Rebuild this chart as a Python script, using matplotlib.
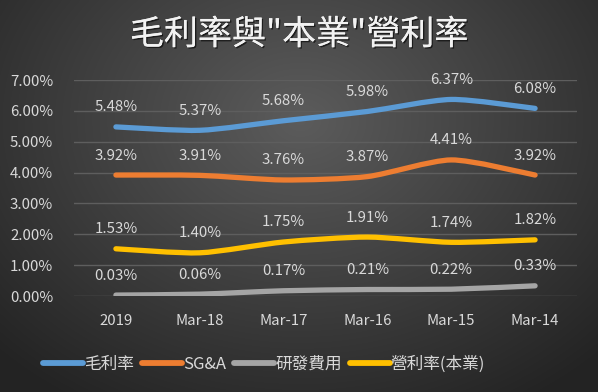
import numpy as np
import matplotlib
matplotlib.use("Agg")
import matplotlib.pyplot as plt
from matplotlib.path import Path
from matplotlib.patches import PathPatch
import matplotlib.patheffects as pe

plt.rcParams['font.family'] = ['Noto Sans CJK TC', 'DejaVu Sans']

categories = ['2019', 'Mar-18', 'Mar-17', 'Mar-16', 'Mar-15', 'Mar-14']
gross = [5.48, 5.37, 5.68, 5.98, 6.37, 6.08]
sga = [3.92, 3.91, 3.76, 3.87, 4.41, 3.92]
rnd = [0.03, 0.06, 0.17, 0.21, 0.22, 0.33]
op = [1.53, 1.40, 1.75, 1.91, 1.74, 1.82]

series = [
    ('毛利率', gross, '#5B9BD5'),
    ('SG&A', sga, '#ED7D31'),
    ('研發費用', rnd, '#A5A5A5'),
    ('營利率(本業)', op, '#FFC000'),
]

W, H = 598, 392
fig = plt.figure(figsize=(W / 100, H / 100), dpi=100)

# radial-ish gradient background
bg = fig.add_axes([0, 0, 1, 1], zorder=-10)
yy, xx = np.mgrid[0:H, 0:W]
d = np.sqrt(((xx - 300) / 420.0) ** 2 + ((yy - 120) / 330.0) ** 2)
v = np.clip(0.36 - 0.22 * d, 0.14, 0.36)
bg.imshow(np.dstack([v, v, v]), aspect='auto', extent=[0, 1, 0, 1])
bg.axis('off')

ax = fig.add_axes([74 / W, 1 - 296 / H, (577 - 74) / W, (296 - 80) / H])
ax.set_facecolor('none')
x = np.arange(len(categories))


def smooth_path(xs, ys, t=0.12):
    # Catmull-Rom style bezier control points (like Excel smoothed lines)
    pts = np.column_stack([xs, ys]).astype(float)
    verts = [pts[0]]
    codes = [Path.MOVETO]
    n = len(pts)
    for i in range(n - 1):
        p0 = pts[i - 1] if i > 0 else pts[i]
        p1, p2 = pts[i], pts[i + 1]
        p3 = pts[i + 2] if i + 2 < n else pts[i + 1]
        c1 = p1 + (p2 - p0) * t
        c2 = p2 - (p3 - p1) * t
        verts += [c1, c2, p2]
        codes += [Path.CURVE4] * 3
    return Path(verts, codes)


for name, vals, col in series:
    p = smooth_path(x, vals)
    ax.add_patch(PathPatch(p, facecolor='none', edgecolor=col, lw=3.8,
                           capstyle='round', joinstyle='round', zorder=3))
    ax.plot([], [], color=col, lw=4.2, solid_capstyle='round', label=name)
    for xi, vi in zip(x, vals):
        ax.annotate(f'{vi:.2f}%', (xi, vi), xytext=(0, 9), textcoords='offset points',
                    ha='center', va='bottom', color='#d9d9d9', fontsize=10.8)

ax.set_xlim(-0.5, len(categories) - 0.5)
ax.set_ylim(0, 7)
ax.set_yticks(np.arange(0, 8, 1))
ax.set_yticklabels([f'{v:.2f}%' for v in range(8)])
ax.set_xticks(x)
ax.set_xticklabels(categories)
ax.tick_params(colors='#d9d9d9', labelsize=10.8, length=0)
ax.tick_params(axis='x', pad=13)
ax.tick_params(axis='y', pad=15)
for s in ax.spines.values():
    s.set_visible(False)
ax.grid(axis='y', color='#5e5e5e', lw=1)
ax.set_axisbelow(True)

fig.text(0.5, 1 - 35 / H, '毛利率與"本業"營利率', ha='center', va='center',
         color='#f2f2f2', fontsize=24.5, fontweight='light',
         path_effects=[pe.withSimplePatchShadow(offset=(1, -1), shadow_rgbFace='black', alpha=0.6), pe.Normal()])

leg = fig.legend(loc='center', bbox_to_anchor=(264 / W, 1 - 364 / H), ncol=4, frameon=False,
                 fontsize=12, labelcolor='#d9d9d9', handlelength=2.4, handletextpad=0.05,
                 columnspacing=0.5)

fig.savefig('out.png', dpi=100)
